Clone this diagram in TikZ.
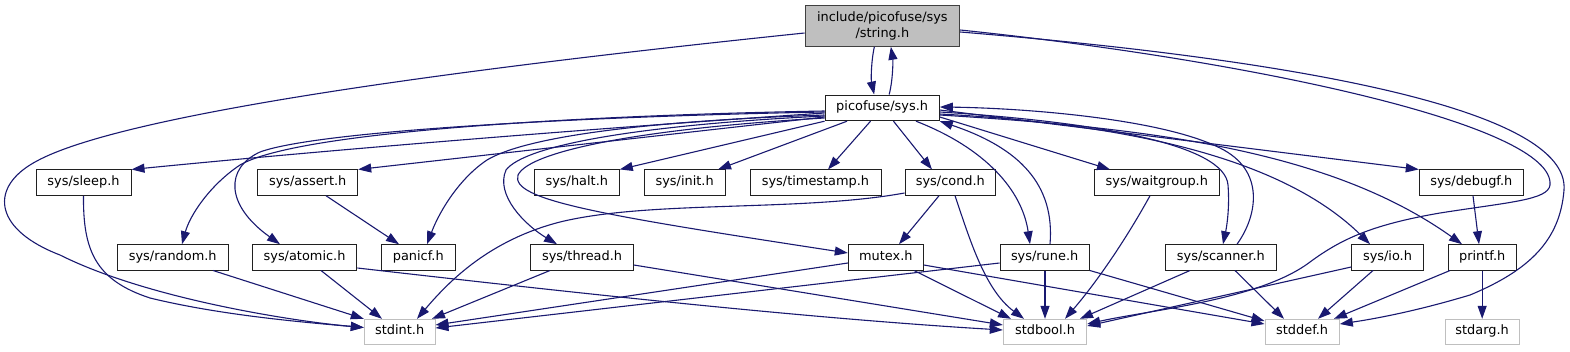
\documentclass[tikz,border=0pt]{standalone}
\usepackage{fontspec}
\setmainfont{DejaVu Sans}
\usetikzlibrary{arrows.meta}
\definecolor{edgeblue}{HTML}{191970}
\definecolor{rootfill}{HTML}{BFBFBF}
\definecolor{ghostline}{HTML}{BFBFBF}
\definecolor{rootline}{HTML}{404040}
\definecolor{boxline}{HTML}{202020}
\tikzset{
  nd/.style={draw=boxline, line width=1pt, inner sep=0pt, minimum height=25.3pt,
    font=\fontsize{12.9}{15.6}\selectfont, text height=9.3pt, text depth=3.1pt},
  ghost/.style={nd, draw=ghostline},
  rootnd/.style={draw=rootline, fill=rootfill, line width=1pt, inner sep=0pt,
    font=\fontsize{12.9}{15.6}\selectfont, align=center},
  e/.style={draw=edgeblue, line width=1.1pt, -{Triangle[length=13pt,width=9pt]}}
}
\begin{document}
\begin{tikzpicture}[x=1pt,y=-1pt]
\fill[white] (0,0) rectangle (1570,351);
\useasboundingbox (0,0) rectangle (1570,351);
% nodes
\node[rootnd, minimum width=154.7pt, minimum height=40.6pt] (str) at (882.35,26) {include/picofuse/sys\\/string.h};
\node[nd, minimum width=114.3pt, minimum height=25.7pt] (sys) at (882.15,107.85) {picofuse/sys.h};
% row C
\node[nd, minimum width=95pt] (sleep) at (83.5,182.6) {sys/sleep.h};
\node[nd, minimum width=100pt] (assert) at (307.7,182.6) {sys/assert.h};
\node[nd, minimum width=85pt] (halt) at (576.8,182.6) {sys/halt.h};
\node[nd, minimum width=81.3pt] (init) at (684.65,182.6) {sys/init.h};
\node[nd, minimum width=131pt] (timestamp) at (815.5,182.6) {sys/timestamp.h};
\node[nd, minimum width=90.7pt] (cond) at (950.35,182.6) {sys/cond.h};
\node[nd, minimum width=125pt] (waitgroup) at (1156.8,182.6) {sys/waitgroup.h};
\node[nd, minimum width=104pt] (debugf) at (1471.3,182.6) {sys/debugf.h};
% row D
\node[nd, minimum width=110.9pt] (random) at (172.75,257.35) {sys/random.h};
\node[nd, minimum width=104.7pt] (atomic) at (304.55,257.35) {sys/atomic.h};
\node[nd, minimum width=73.5pt] (panicf) at (418.25,257.35) {panicf.h};
\node[nd, minimum width=102.5pt] (thread) at (582.05,257.35) {sys/thread.h};
\node[nd, minimum width=75pt] (mutex) at (885.8,257.35) {mutex.h};
\node[nd, minimum width=89.3pt] (rune) at (1044.65,257.35) {sys/rune.h};
\node[nd, minimum width=110.3pt] (scanner) at (1220.85,257.35) {sys/scanner.h};
\node[nd, minimum width=71.6pt] (io) at (1387.5,257.35) {sys/io.h};
\node[nd, minimum width=67.7pt] (printf) at (1482.15,257.35) {printf.h};
% row E
\node[ghost, minimum width=70.7pt, minimum height=25pt] (stdint) at (399.65,331.8) {stdint.h};
\node[ghost, minimum width=83.4pt, minimum height=25pt] (stdbool) at (1045,331.8) {stdbool.h};
\node[ghost, minimum width=74.3pt, minimum height=25pt] (stddef) at (1302.15,331.8) {stddef.h};
\node[ghost, minimum width=74.3pt, minimum height=25pt] (stdarg) at (1482.15,331.8) {stdarg.h};
% edges: string.h <-> sys.h
\draw[e] ([xshift=-8pt]str.south) .. controls (871,62) and (871,80) .. ([xshift=-8pt]sys.north);
\draw[e] ([xshift=7pt]sys.north) .. controls (893,80) and (893,60) .. ([xshift=8.5pt]str.south);
% string.h long curves
\draw[e] (str.west |- 0,33) .. controls (400,75) and (100,120) .. (30,165)
  .. controls (-10,190) and (-5,230) .. (60,255)
  .. controls (150,300) and (300,322) .. (stdint.west |- 0,327.5);
\draw[e] (str.east |- 0,30) .. controls (1250,60) and (1555,125) .. (1550,185)
  .. controls (1548,200) and (1510,202) .. (1440,213)
  .. controls (1370,225) and (1340,240) .. (1310,262)
  .. controls (1260,300) and (1150,310) .. (stdbool.east |- 0,324);
\draw[e] (str.east |- 0,32) .. controls (1300,60) and (1570,110) .. (1564,190)
  .. controls (1560,240) and (1530,270) .. (1470,295)
  .. controls (1420,310) and (1380,318) .. (stddef.east |- 0,324);
% sys.h to the left
\draw[e] (sys.west |- 0,113) .. controls (600,128) and (350,148) .. (sleep.north east);
\draw[e] (sys.west |- 0,111) .. controls (600,115) and (300,130) .. (240,165)
  .. controls (210,185) and (190,215) .. (random.north -| 182,0);
\draw[e] (sys.west |- 0,112) .. controls (600,116) and (320,130) .. (260,152)
  .. controls (225,168) and (225,205) .. (atomic.north -| 280,0);
\draw[e] (sys.west |- 0,117) -- (assert.north east);
\draw[e] (sys.west |- 0,115) .. controls (620,122) and (520,140) .. (487,160)
  .. controls (460,178) and (440,210) .. (panicf.north -| 427,0);
\draw[e] (sys.west |- 0,116) .. controls (640,125) and (525,145) .. (506,170)
  .. controls (495,195) and (525,225) .. (thread.north -| 557,0);
\draw[e] (sys.west |- 0,118) .. controls (650,128) and (530,150) .. (518,175)
  .. controls (510,200) and (600,215) .. (mutex.west |- 0,253);
% sys.h downwards
\draw[e] (sys.south west) -- (halt.north east);
\draw[e] (sys.south -| 847,0) -- (init.north -| 718,0);
\draw[e] (sys.south -| 870.5,0) -- (timestamp.north -| 828,0);
\draw[e] (sys.south -| 893.5,0) -- (cond.north -| 932,0);
\draw[e] (sys.south -| 916,0) .. controls (985,148) and (1022,190) .. (rune.north -| 1030,0);
\draw[e] (rune.north -| 1050,0) .. controls (1055,185) and (1020,148) .. (sys.south east);
% sys.h to the right
\draw[e] (sys.east |- 0,117) -- (waitgroup.north -| 1110,0);
\draw[e] (sys.east |- 0,112) .. controls (1100,122) and (1225,145) .. (1228,185)
  .. controls (1230,210) and (1226,230) .. (scanner.north -| 1223,0);
\draw[e] (scanner.north -| 1237,0) .. controls (1258,215) and (1265,170) .. (1220,148)
  .. controls (1160,118) and (1020,108) .. (sys.east |- 0,107);
\draw[e] (sys.east |- 0,114) .. controls (1150,125) and (1290,165) .. (io.north -| 1370,0);
\draw[e] (sys.east |- 0,110) -- (debugf.north west);
\draw[e] (sys.east |- 0,115) .. controls (1150,128) and (1330,150) .. (printf.north -| 1462,0);
% lower levels
\draw[e] (debugf.south -| 1473,0) -- (printf.north -| 1479,0);
\draw[e] (printf.south) -- (stdarg.north);
\draw[e] (printf.south -| 1450,0) -- (stddef.north -| 1334,0);
\draw[e] (io.south -| 1373,0) -- (stddef.north -| 1318,0);
\draw[e] (io.west |- 0,267) -- (stdbool.east |- 0,326);
\draw[e] (scanner.south -| 1190,0) -- (stdbool.north -| 1080,0);
\draw[e] (scanner.south -| 1235,0) -- (stddef.north -| 1284,0);
\draw[e] (waitgroup.south -| 1150,0) .. controls (1120,250) and (1090,290) .. (stdbool.north -| 1065,0);
\draw[e] (rune.south -| 1045,0) -- (stdbool.north -| 1045,0);
\draw[e] (rune.south east) -- (stddef.west |- 0,321);
\draw[e] (rune.west |- 0,263) -- (stdint.east |- 0,328);
\draw[e] (mutex.west |- 0,263) -- (stdint.east |- 0,325);
\draw[e] (mutex.south -| 914,0) -- (stdbool.north -| 1011,0);
\draw[e] (mutex.east |- 0,265) -- (stddef.west |- 0,324);
\draw[e] (cond.west |- 0,193) .. controls (800,212) and (650,200) .. (560,222)
  .. controls (490,240) and (450,280) .. (stdint.north -| 417,0);
\draw[e] (cond.south -| 939,0) -- (mutex.north -| 899,0);
\draw[e] (cond.south -| 955,0) .. controls (970,240) and (985,290) .. (stdbool.north -| 1024,0);
\draw[e] (thread.south -| 550,0) -- (stdint.north -| 432,0);
\draw[e] (thread.east |- 0,265) -- (stdbool.west |- 0,325);
\draw[e] (atomic.south -| 321,0) -- (stdint.north -| 382,0);
\draw[e] (atomic.east |- 0,268) .. controls (550,290) and (800,318) .. (stdbool.west |- 0,330);
\draw[e] (random.south -| 213,0) -- (stdint.north west);
\draw[e] (sleep.south) .. controls (83,250) and (95,280) .. (150,298)
  .. controls (220,315) and (300,322) .. (stdint.west |- 0,327.5);
\draw[e] (assert.south -| 326,0) -- (panicf.north -| 399,0);
\end{tikzpicture}
\end{document}
